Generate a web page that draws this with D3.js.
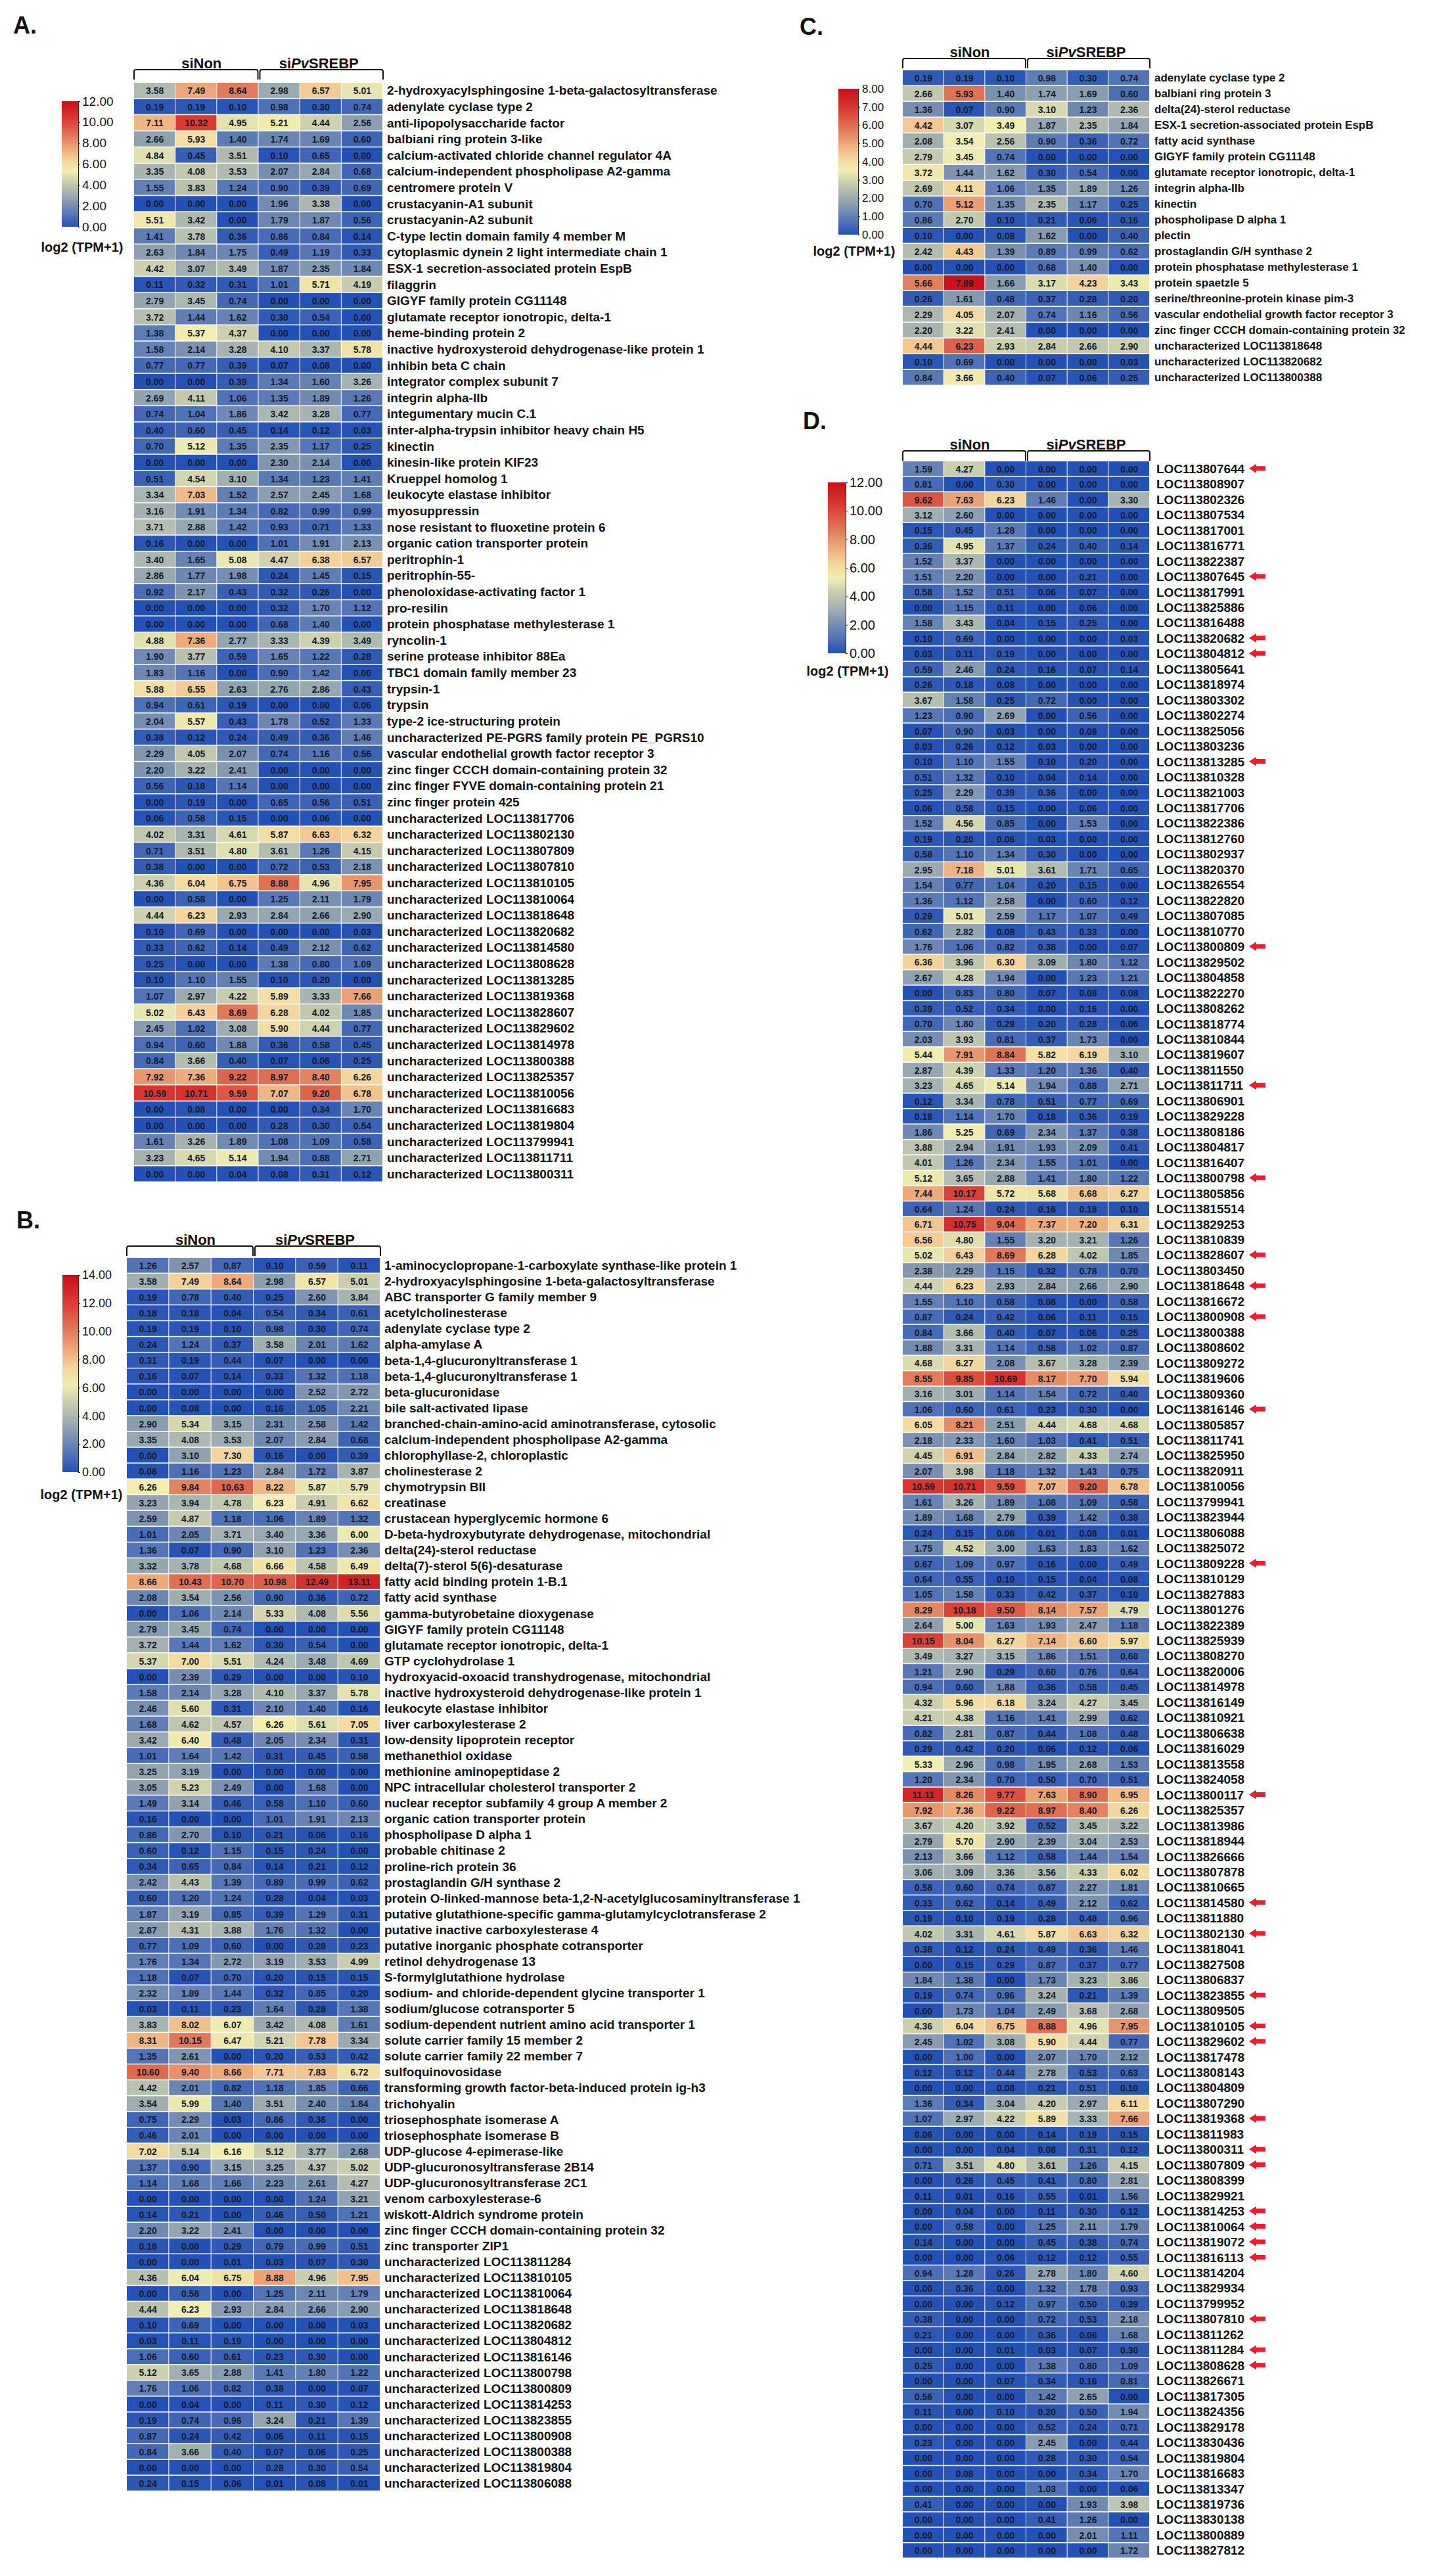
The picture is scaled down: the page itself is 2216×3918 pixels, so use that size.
<!DOCTYPE html>
<html>
<head>
<meta charset="utf-8">
<title>Heatmaps</title>
<script src="https://cdn.jsdelivr.net/npm/d3@7"></script>
<style>
  html, body { margin: 0; background: #fff; }
  svg { display: block; }
  text { font-family: "Liberation Sans", Arial, sans-serif; fill: #111; }
</style>
</head>
<body>
<div id="chart"></div>
<script>
const groupNames = ['siNon', 'siPvSREBP'];

const aRows = ['2-hydroxyacylsphingosine 1-beta-galactosyltransferase','adenylate cyclase type 2','anti-lipopolysaccharide factor','balbiani ring protein 3-like','calcium-activated chloride channel regulator 4A','calcium-independent phospholipase A2-gamma','centromere protein V','crustacyanin-A1 subunit','crustacyanin-A2 subunit','C-type lectin domain family 4 member M','cytoplasmic dynein 2 light intermediate chain 1','ESX-1 secretion-associated protein EspB','filaggrin','GIGYF family protein CG11148','glutamate receptor ionotropic, delta-1','heme-binding protein 2','inactive hydroxysteroid dehydrogenase-like protein 1','inhibin beta C chain','integrator complex subunit 7','integrin alpha-IIb','integumentary mucin C.1','inter-alpha-trypsin inhibitor heavy chain H5','kinectin','kinesin-like protein KIF23','Krueppel homolog 1','leukocyte elastase inhibitor','myosuppressin','nose resistant to fluoxetine protein 6','organic cation transporter protein','peritrophin-1','peritrophin-55-','phenoloxidase-activating factor 1','pro-resilin','protein phosphatase methylesterase 1','ryncolin-1','serine protease inhibitor 88Ea','TBC1 domain family member 23','trypsin-1','trypsin','type-2 ice-structuring protein','uncharacterized PE-PGRS family protein PE_PGRS10','vascular endothelial growth factor receptor 3','zinc finger CCCH domain-containing protein 32','zinc finger FYVE domain-containing protein 21','zinc finger protein 425','uncharacterized LOC113817706','uncharacterized LOC113802130','uncharacterized LOC113807809','uncharacterized LOC113807810','uncharacterized LOC113810105','uncharacterized LOC113810064','uncharacterized LOC113818648','uncharacterized LOC113820682','uncharacterized LOC113814580','uncharacterized LOC113808628','uncharacterized LOC113813285','uncharacterized LOC113819368','uncharacterized LOC113828607','uncharacterized LOC113829602','uncharacterized LOC113814978','uncharacterized LOC113800388','uncharacterized LOC113825357','uncharacterized LOC113810056','uncharacterized LOC113816683','uncharacterized LOC113819804','uncharacterized LOC113799941','uncharacterized LOC113811711','uncharacterized LOC113800311'];
const aValues = [
[3.58,7.49,8.64,2.98,6.57,5.01],[0.19,0.19,0.10,0.98,0.30,0.74],[7.11,10.32,4.95,5.21,4.44,2.56],[2.66,5.93,1.40,1.74,1.69,0.60],
[4.84,0.45,3.51,0.10,0.65,0],[3.35,4.08,3.53,2.07,2.84,0.68],[1.55,3.83,1.24,0.90,0.39,0.69],[0,0,0,1.96,3.38,0],
[5.51,3.42,0,1.79,1.87,0.56],[1.41,3.78,0.36,0.86,0.84,0.14],[2.63,1.84,1.75,0.49,1.19,0.33],[4.42,3.07,3.49,1.87,2.35,1.84],
[0.11,0.32,0.31,1.01,5.71,4.19],[2.79,3.45,0.74,0,0,0],[3.72,1.44,1.62,0.30,0.54,0],[1.38,5.37,4.37,0,0,0],
[1.58,2.14,3.28,4.10,3.37,5.78],[0.77,0.77,0.39,0.07,0.08,0],[0,0,0.39,1.34,1.60,3.26],[2.69,4.11,1.06,1.35,1.89,1.26],
[0.74,1.04,1.86,3.42,3.28,0.77],[0.40,0.60,0.45,0.14,0.12,0.03],[0.70,5.12,1.35,2.35,1.17,0.25],[0,0,0,2.30,2.14,0],
[0.51,4.54,3.10,1.34,1.23,1.41],[3.34,7.03,1.52,2.57,2.45,1.68],[3.16,1.91,1.34,0.82,0.99,0.99],[3.71,2.88,1.42,0.93,0.71,1.33],
[0.16,0,0,1.01,1.91,2.13],[3.40,1.65,5.08,4.47,6.38,6.57],[2.86,1.77,1.98,0.24,1.45,0.15],[0.92,2.17,0.43,0.32,0.26,0],
[0,0,0,0.32,1.70,1.12],[0,0,0,0.68,1.40,0],[4.88,7.36,2.77,3.33,4.39,3.49],[1.90,3.77,0.59,1.65,1.22,0.28],
[1.83,1.16,0,0.90,1.42,0],[5.88,6.55,2.63,2.76,2.86,0.43],[0.94,0.61,0.19,0,0,0.06],[2.04,5.57,0.43,1.78,0.52,1.33],
[0.38,0.12,0.24,0.49,0.36,1.46],[2.29,4.05,2.07,0.74,1.16,0.56],[2.20,3.22,2.41,0,0,0],[0.56,0.18,1.14,0,0,0],
[0,0.19,0,0.65,0.56,0.51],[0.06,0.58,0.15,0,0.06,0],[4.02,3.31,4.61,5.87,6.63,6.32],[0.71,3.51,4.80,3.61,1.26,4.15],
[0.38,0,0,0.72,0.53,2.18],[4.36,6.04,6.75,8.88,4.96,7.95],[0,0.58,0,1.25,2.11,1.79],[4.44,6.23,2.93,2.84,2.66,2.90],
[0.10,0.69,0,0,0,0.03],[0.33,0.62,0.14,0.49,2.12,0.62],[0.25,0,0,1.38,0.80,1.09],[0.10,1.10,1.55,0.10,0.20,0],
[1.07,2.97,4.22,5.89,3.33,7.66],[5.02,6.43,8.69,6.28,4.02,1.85],[2.45,1.02,3.08,5.90,4.44,0.77],[0.94,0.60,1.88,0.36,0.58,0.45],
[0.84,3.66,0.40,0.07,0.06,0.25],[7.92,7.36,9.22,8.97,8.40,6.26],[10.59,10.71,9.59,7.07,9.20,6.78],[0,0.08,0,0,0.34,1.70],
[0,0,0,0.28,0.30,0.54],[1.61,3.26,1.89,1.08,1.09,0.58],[3.23,4.65,5.14,1.94,0.88,2.71],[0,0,0.04,0.08,0.31,0.12]
];
const aTicks = [0,2,4,6,8,10,12];

const bRows = ['1-aminocyclopropane-1-carboxylate synthase-like protein 1','2-hydroxyacylsphingosine 1-beta-galactosyltransferase','ABC transporter G family member 9','acetylcholinesterase','adenylate cyclase type 2','alpha-amylase A','beta-1,4-glucuronyltransferase 1','beta-1,4-glucuronyltransferase 1','beta-glucuronidase','bile salt-activated lipase','branched-chain-amino-acid aminotransferase, cytosolic','calcium-independent phospholipase A2-gamma','chlorophyllase-2, chloroplastic','cholinesterase 2','chymotrypsin BII','creatinase','crustacean hyperglycemic hormone 6','D-beta-hydroxybutyrate dehydrogenase, mitochondrial','delta(24)-sterol reductase','delta(7)-sterol 5(6)-desaturase','fatty acid binding protein 1-B.1','fatty acid synthase','gamma-butyrobetaine dioxygenase','GIGYF family protein CG11148','glutamate receptor ionotropic, delta-1','GTP cyclohydrolase 1','hydroxyacid-oxoacid transhydrogenase, mitochondrial','inactive hydroxysteroid dehydrogenase-like protein 1','leukocyte elastase inhibitor','liver carboxylesterase 2','low-density lipoprotein receptor','methanethiol oxidase','methionine aminopeptidase 2','NPC intracellular cholesterol transporter 2','nuclear receptor subfamily 4 group A member 2','organic cation transporter protein','phospholipase D alpha 1','probable chitinase 2','proline-rich protein 36','prostaglandin G/H synthase 2','protein O-linked-mannose beta-1,2-N-acetylglucosaminyltransferase 1','putative glutathione-specific gamma-glutamylcyclotransferase 2','putative inactive carboxylesterase 4','putative inorganic phosphate cotransporter','retinol dehydrogenase 13','S-formylglutathione hydrolase','sodium- and chloride-dependent glycine transporter 1','sodium/glucose cotransporter 5','sodium-dependent nutrient amino acid transporter 1','solute carrier family 15 member 2','solute carrier family 22 member 7','sulfoquinovosidase','transforming growth factor-beta-induced protein ig-h3','trichohyalin','triosephosphate isomerase A','triosephosphate isomerase B','UDP-glucose 4-epimerase-like','UDP-glucuronosyltransferase 2B14','UDP-glucuronosyltransferase 2C1','venom carboxylesterase-6','wiskott-Aldrich syndrome protein','zinc finger CCCH domain-containing protein 32','zinc transporter ZIP1','uncharacterized LOC113811284','uncharacterized LOC113810105','uncharacterized LOC113810064','uncharacterized LOC113818648','uncharacterized LOC113820682','uncharacterized LOC113804812','uncharacterized LOC113816146','uncharacterized LOC113800798','uncharacterized LOC113800809','uncharacterized LOC113814253','uncharacterized LOC113823855','uncharacterized LOC113800908','uncharacterized LOC113800388','uncharacterized LOC113819804','uncharacterized LOC113806088'];
const bValues = [
[1.26,2.57,0.87,0.10,0.59,0.11],[3.58,7.49,8.64,2.98,6.57,5.01],[0.19,0.78,0.40,0.25,2.60,3.84],[0.18,0.18,0.04,0.54,0.34,0.61],
[0.19,0.19,0.10,0.98,0.30,0.74],[0.24,1.24,0.37,3.58,2.01,1.62],[0.31,0.19,0.44,0.07,0,0],[0.16,0.07,0.14,0.33,1.32,1.18],
[0,0,0,0,2.52,2.72],[0,0.08,0,0.16,1.05,2.21],[2.90,5.34,3.15,2.31,2.58,1.42],[3.35,4.08,3.53,2.07,2.84,0.68],
[0,3.10,7.30,0.16,0,0.39],[0.06,1.16,1.23,2.84,1.72,3.87],[6.26,9.84,10.63,8.22,5.87,5.79],[3.23,3.94,4.78,6.23,4.91,6.62],
[2.59,4.87,1.18,1.06,1.89,1.32],[1.01,2.05,3.71,3.40,3.36,6.00],[1.36,0.07,0.90,3.10,1.23,2.36],[3.32,3.78,4.68,6.66,4.58,6.49],
[8.66,10.43,10.70,10.98,12.49,13.11],[2.08,3.54,2.56,0.90,0.36,0.72],[0,1.06,2.14,5.33,4.08,5.56],[2.79,3.45,0.74,0,0,0],
[3.72,1.44,1.62,0.30,0.54,0],[5.37,7.00,5.51,4.24,3.48,4.69],[0,2.39,0.29,0,0,0.10],[1.58,2.14,3.28,4.10,3.37,5.78],
[2.46,5.60,0.31,2.10,1.40,0.16],[1.68,4.62,4.57,6.26,5.61,7.05],[3.42,6.40,0.48,2.05,2.34,0.31],[1.01,1.64,1.42,0.31,0.45,0.58],
[3.25,3.19,0,0,0,0],[3.05,5.23,2.49,0,1.68,0],[1.49,3.14,0.46,0.58,1.10,0.60],[0.16,0,0,1.01,1.91,2.13],
[0.86,2.70,0.10,0.21,0.06,0.16],[0.60,0.12,1.15,0.15,0.24,0],[0.34,0.65,0.84,0.14,0.21,0.12],[2.42,4.43,1.39,0.89,0.99,0.62],
[0.60,1.20,1.24,0.28,0.04,0.03],[1.87,3.19,0.85,0.39,1.29,0.31],[2.87,4.31,3.88,1.76,1.32,0],[0.77,1.09,0.60,0,0.28,0.23],
[1.76,1.34,2.72,3.19,3.53,4.99],[1.18,0.07,0.70,0.20,0.15,0.15],[2.32,1.89,1.44,0.32,0.85,0.20],[0.03,0.11,0.23,1.64,0.28,1.38],
[3.83,8.02,6.07,3.42,4.08,1.61],[8.31,10.15,6.47,5.21,7.78,3.34],[1.35,2.61,0,0.20,0.53,0.42],[10.60,9.40,8.66,7.71,7.83,6.72],
[4.42,2.01,0.82,1.18,1.85,0.66],[3.54,5.99,1.40,3.51,2.40,1.84],[0.75,2.29,0.03,0.86,0.36,0],[0.46,2.01,0,0,0,0],
[7.02,5.14,6.16,5.12,3.77,2.68],[1.37,0.90,3.15,3.25,4.37,5.02],[1.14,1.68,1.66,2.23,2.61,4.27],[0,0,0,0,1.24,3.21],
[0.14,0.21,0,0.46,0.50,1.21],[2.20,3.22,2.41,0,0,0],[0.18,0,0.29,0.79,0.99,0.51],[0,0,0.01,0.03,0.07,0.30],
[4.36,6.04,6.75,8.88,4.96,7.95],[0,0.58,0,1.25,2.11,1.79],[4.44,6.23,2.93,2.84,2.66,2.90],[0.10,0.69,0,0,0,0.03],
[0.03,0.11,0.19,0,0,0],[1.06,0.60,0.61,0.23,0.30,0],[5.12,3.65,2.88,1.41,1.80,1.22],[1.76,1.06,0.82,0.38,0,0.07],
[0,0.04,0,0.11,0.30,0.12],[0.19,0.74,0.96,3.24,0.21,1.39],[0.87,0.24,0.42,0.06,0.11,0.15],[0.84,3.66,0.40,0.07,0.06,0.25],
[0,0,0,0.28,0.30,0.54],[0.24,0.15,0.06,0.01,0.08,0.01]
];
const bTicks = [0,2,4,6,8,10,12,14];

const cRows = ['adenylate cyclase type 2','balbiani ring protein 3','delta(24)-sterol reductase','ESX-1 secretion-associated protein EspB','fatty acid synthase','GIGYF family protein CG11148','glutamate receptor ionotropic, delta-1','integrin alpha-IIb','kinectin','phospholipase D alpha 1','plectin','prostaglandin G/H synthase 2','protein phosphatase methylesterase 1','protein spaetzle 5','serine/threonine-protein kinase pim-3','vascular endothelial growth factor receptor 3','zinc finger CCCH domain-containing protein 32','uncharacterized LOC113818648','uncharacterized LOC113820682','uncharacterized LOC113800388'];
const cValues = [
[0.19,0.19,0.10,0.98,0.30,0.74],[2.66,5.93,1.40,1.74,1.69,0.60],[1.36,0.07,0.90,3.10,1.23,2.36],[4.42,3.07,3.49,1.87,2.35,1.84],
[2.08,3.54,2.56,0.90,0.36,0.72],[2.79,3.45,0.74,0,0,0],[3.72,1.44,1.62,0.30,0.54,0],[2.69,4.11,1.06,1.35,1.89,1.26],
[0.70,5.12,1.35,2.35,1.17,0.25],[0.86,2.70,0.10,0.21,0.06,0.16],[0.10,0,0.08,1.62,0,0.40],[2.42,4.43,1.39,0.89,0.99,0.62],
[0,0,0,0.68,1.40,0],[5.66,7.89,1.66,3.17,4.23,3.43],[0.26,1.61,0.48,0.37,0.28,0.20],[2.29,4.05,2.07,0.74,1.16,0.56],
[2.20,3.22,2.41,0,0,0],[4.44,6.23,2.93,2.84,2.66,2.90],[0.10,0.69,0,0,0,0.03],[0.84,3.66,0.40,0.07,0.06,0.25]
];
const cTicks = [0,1,2,3,4,5,6,7,8];

const dRows = ['LOC113807644','LOC113808907','LOC113802326','LOC113807534','LOC113817001','LOC113816771','LOC113822387','LOC113807645','LOC113817991','LOC113825886','LOC113816488','LOC113820682','LOC113804812','LOC113805641','LOC113818974','LOC113803302','LOC113802274','LOC113825056','LOC113803236','LOC113813285','LOC113810328','LOC113821003','LOC113817706','LOC113822386','LOC113812760','LOC113802937','LOC113820370','LOC113826554','LOC113822820','LOC113807085','LOC113810770','LOC113800809','LOC113829502','LOC113804858','LOC113822270','LOC113808262','LOC113818774','LOC113810844','LOC113819607','LOC113811550','LOC113811711','LOC113806901','LOC113829228','LOC113808186','LOC113804817','LOC113816407','LOC113800798','LOC113805856','LOC113815514','LOC113829253','LOC113810839','LOC113828607','LOC113803450','LOC113818648','LOC113816672','LOC113800908','LOC113800388','LOC113808602','LOC113809272','LOC113819606','LOC113809360','LOC113816146','LOC113805857','LOC113811741','LOC113825950','LOC113820911','LOC113810056','LOC113799941','LOC113823944','LOC113806088','LOC113825072','LOC113809228','LOC113810129','LOC113827883','LOC113801276','LOC113822389','LOC113825939','LOC113808270','LOC113820006','LOC113814978','LOC113816149','LOC113810921','LOC113806638','LOC113816029','LOC113813558','LOC113824058','LOC113800117','LOC113825357','LOC113813986','LOC113818944','LOC113826666','LOC113807878','LOC113810665','LOC113814580','LOC113811880','LOC113802130','LOC113818041','LOC113827508','LOC113806837','LOC113823855','LOC113809505','LOC113810105','LOC113829602','LOC113817478','LOC113808143','LOC113804809','LOC113807290','LOC113819368','LOC113811983','LOC113800311','LOC113807809','LOC113808399','LOC113829921','LOC113814253','LOC113810064','LOC113819072','LOC113816113','LOC113814204','LOC113829934','LOC113799952','LOC113807810','LOC113811262','LOC113811284','LOC113808628','LOC113826671','LOC113817305','LOC113824356','LOC113829178','LOC113830436','LOC113819804','LOC113816683','LOC113813347','LOC113819736','LOC113830138','LOC113800889','LOC113827812'];
const dValues = [
[1.59,4.27,0,0,0,0],[0.81,0,0.30,0,0,0],[9.62,7.63,6.23,1.46,0,3.30],[3.12,2.60,0,0,0,0],[0.15,0.45,1.28,0,0,0],[0.36,4.95,1.37,0.24,0.40,0.14],
[1.52,3.37,0,0,0,0],[1.51,2.20,0,0,0.21,0],[0.58,1.52,0.51,0.06,0.07,0],[0,1.15,0.11,0,0.06,0],[1.58,3.43,0.04,0.15,0.25,0],[0.10,0.69,0,0,0,0.03],
[0.03,0.11,0.19,0,0,0],[0.59,2.46,0.24,0.16,0.07,0.14],[0.26,0.18,0.08,0,0,0],[3.67,1.58,0.25,0.72,0,0],[1.23,0.90,2.69,0,0.56,0],[0.07,0.90,0.03,0,0.08,0],
[0.03,0.26,0.12,0.03,0,0],[0.10,1.10,1.55,0.10,0.20,0],[0.51,1.32,0.10,0.04,0.14,0],[0.25,2.29,0.39,0.36,0,0],[0.06,0.58,0.15,0,0.06,0],[1.52,4.56,0.85,0,1.53,0],
[0.19,0.20,0.06,0.03,0,0],[0.58,1.10,1.34,0.30,0,0],[2.95,7.18,5.01,3.61,1.71,0.65],[1.54,0.77,1.04,0.20,0.15,0],[1.36,1.12,2.58,0,0.60,0.12],[0.29,5.01,2.59,1.17,1.07,0.49],
[0.62,2.82,0.08,0.43,0.33,0],[1.76,1.06,0.82,0.38,0,0.07],[6.36,3.96,6.30,3.09,1.80,1.12],[2.67,4.28,1.94,0,1.23,1.21],[0,0.83,0.80,0.07,0.08,0.08],[0.39,0.52,0.34,0,0.16,0],
[0.70,1.80,0.29,0.20,0.28,0.06],[2.03,3.93,0.81,0.37,1.73,0],[5.44,7.91,8.84,5.82,6.19,3.10],[2.87,4.39,1.33,1.20,1.36,0.40],[3.23,4.65,5.14,1.94,0.88,2.71],[0.12,3.34,0.78,0.51,0.77,0.69],
[0.18,1.14,1.70,0.18,0.36,0.19],[1.86,5.25,0.69,2.34,1.37,0.38],[3.88,2.94,1.91,1.93,2.09,0.41],[4.01,1.26,2.34,1.55,1.01,0],[5.12,3.65,2.88,1.41,1.80,1.22],[7.44,10.17,5.72,5.68,6.68,6.27],
[0.64,1.24,0.24,0.16,0.18,0.10],[6.71,10.75,9.04,7.37,7.20,6.31],[6.56,4.80,1.55,3.20,3.21,1.26],[5.02,6.43,8.69,6.28,4.02,1.85],[2.38,2.29,1.15,0.32,0.78,0.70],[4.44,6.23,2.93,2.84,2.66,2.90],
[1.55,1.10,0.58,0.08,0,0.58],[0.87,0.24,0.42,0.06,0.11,0.15],[0.84,3.66,0.40,0.07,0.06,0.25],[1.88,3.31,1.14,0.58,1.02,0.87],[4.68,6.27,2.08,3.67,3.28,2.39],[8.55,9.85,10.69,8.17,7.70,5.94],
[3.16,3.01,1.14,1.54,0.72,0.40],[1.06,0.60,0.61,0.23,0.30,0],[6.05,8.21,2.51,4.44,4.68,4.68],[2.18,2.33,1.60,1.03,0.41,0.51],[4.45,6.91,2.84,2.82,4.33,2.74],[2.07,3.98,1.18,1.32,1.43,0.75],
[10.59,10.71,9.59,7.07,9.20,6.78],[1.61,3.26,1.89,1.08,1.09,0.58],[1.89,1.68,2.79,0.39,1.42,0.38],[0.24,0.15,0.06,0.01,0.08,0.01],[1.75,4.52,3.00,1.63,1.83,1.62],[0.67,1.09,0.97,0.16,0,0.49],
[0.64,0.55,0.10,0.15,0.04,0.08],[1.05,1.58,0.33,0.42,0.37,0.10],[8.29,10.18,9.50,8.14,7.57,4.79],[2.64,5.00,1.63,1.93,2.47,1.18],[10.15,8.04,6.27,7.14,6.60,5.97],[3.49,3.27,3.15,1.86,1.51,0.68],
[1.21,2.90,0.29,0.60,0.76,0.64],[0.94,0.60,1.88,0.36,0.58,0.45],[4.32,5.96,6.18,3.24,4.27,3.45],[4.21,4.38,1.16,1.41,2.99,0.62],[0.82,2.81,0.87,0.44,1.08,0.48],[0.29,0.42,0.20,0.06,0.12,0.06],
[5.33,2.96,0.98,1.95,2.68,1.53],[1.20,2.34,0.70,0.50,0.70,0.51],[11.11,8.26,9.77,7.63,8.90,6.95],[7.92,7.36,9.22,8.97,8.40,6.26],[3.67,4.20,3.92,0.52,3.45,3.22],[2.79,5.70,2.90,2.39,3.04,2.53],
[2.13,3.66,1.12,0.58,1.44,1.54],[3.06,3.09,3.36,3.56,4.33,6.02],[0.58,0.60,0.74,0.87,2.27,1.81],[0.33,0.62,0.14,0.49,2.12,0.62],[0.19,0.10,0.19,0.28,0.48,0.96],[4.02,3.31,4.61,5.87,6.63,6.32],
[0.38,0.12,0.24,0.49,0.36,1.46],[0,0.15,0.29,0.87,0.37,0.77],[1.84,1.38,0,1.73,3.23,3.86],[0.19,0.74,0.96,3.24,0.21,1.39],[0,1.73,1.04,2.49,3.68,2.68],[4.36,6.04,6.75,8.88,4.96,7.95],
[2.45,1.02,3.08,5.90,4.44,0.77],[0,1.00,0,2.07,1.70,2.12],[0.12,0.12,0.44,2.78,0.53,0.63],[0,0,0.08,0.21,0.51,0.10],[1.36,0.34,3.04,4.20,2.97,6.11],[1.07,2.97,4.22,5.89,3.33,7.66],
[0.06,0,0,0.14,0.19,0.15],[0,0,0.04,0.08,0.31,0.12],[0.71,3.51,4.80,3.61,1.26,4.15],[0,0.26,0.45,0.41,0.80,2.81],[0.11,0.01,0.16,0.55,0.01,1.56],[0,0.04,0,0.11,0.30,0.12],
[0,0.58,0,1.25,2.11,1.79],[0.14,0,0,0.45,0.38,0.74],[0,0,0.06,0.12,0.12,0.55],[0.94,1.28,0.26,2.78,1.80,4.60],[0,0.36,0,1.32,1.78,0.93],[0,0,0.12,0.97,0.50,0.39],
[0.38,0,0,0.72,0.53,2.18],[0.21,0,0,0.36,0.06,1.68],[0,0,0.01,0.03,0.07,0.30],[0.25,0,0,1.38,0.80,1.09],[0,0,0.07,0.34,0.16,0.81],[0.56,0,0,1.42,2.65,0],
[0.11,0,0.10,0.20,0.50,1.94],[0,0,0,0.52,0.24,0.71],[0.23,0,0,2.45,0,0.44],[0,0,0,0.28,0.30,0.54],[0,0.08,0,0,0.34,1.70],[0,0,0,1.03,0,0.06],
[0.41,0,0,0,1.93,3.98],[0,0,0,0.41,1.26,0],[0,0,0,0,2.01,1.11],[0,0,0,0,0,1.72]
];
const dTicks = [0,2,4,6,8,10,12];
const dMarked = ['LOC113807644','LOC113807645','LOC113820682','LOC113804812','LOC113813285','LOC113800809','LOC113811711','LOC113800798','LOC113828607','LOC113818648','LOC113800908','LOC113816146','LOC113809228','LOC113800117','LOC113814580','LOC113802130','LOC113823855','LOC113810105','LOC113829602','LOC113819368','LOC113800311','LOC113807809','LOC113814253','LOC113810064','LOC113819072','LOC113816113','LOC113807810','LOC113811284','LOC113808628'];

// colour ramp as fractions of each panel's maximum
const rampStops = [0, 0.09, 0.184, 0.256, 0.37, 0.44, 0.53, 0.617, 0.72, 0.86, 1];
const rampColors = ['#2451b5','#5273b6','#7e93b0','#a0aeb0','#cfd2ae','#f2eeb1','#f3d39b','#eeaa7c','#e07a5a','#da3c33','#c80f1b'];

const width = 2216;
const height = 3918;

const svg = d3.select('#chart').append('svg')
    .attr('width', width)
    .attr('height', height);

const defs = svg.append('defs');

function drawPanel(p) {
    const g = svg.append('g').attr('class', 'panel-' + p.letter);
    const max = p.ticks[p.ticks.length - 1];

    let x = d3.scaleBand().domain(d3.range(6)).range([p.left, p.right]);
    let y = d3.scaleBand().domain(d3.range(p.rows.length)).range([p.top, p.bottom]);
    let color = d3.scaleLinear()
        .domain(rampStops.map((s) => s * max))
        .range(rampColors)
        .interpolate(d3.interpolateRgb);

    g.append('text')
        .attr('x', p.letterX)
        .attr('y', p.letterY)
        .attr('font-size', 36)
        .attr('font-weight', 'bold')
        .text(p.letter + '.');

    // brackets over the two groups
    let mid = x(3);
    let brackets = [[p.left, mid - 1], [mid + 2, p.right]];
    g.selectAll('.bracket').data(brackets).enter().append('path')
        .attr('class', 'bracket')
        .attr('fill', 'none')
        .attr('stroke', '#111')
        .attr('stroke-width', 2)
        .attr('d', (d) => {
            let path = d3.path();
            path.moveTo(d[0], p.bracketTop + 15);
            path.lineTo(d[0], p.bracketTop + 3);
            path.quadraticCurveTo(d[0], p.bracketTop, d[0] + 3, p.bracketTop);
            path.lineTo(d[1] - 3, p.bracketTop);
            path.quadraticCurveTo(d[1], p.bracketTop, d[1], p.bracketTop + 3);
            path.lineTo(d[1], p.bracketTop + 15);
            return path.toString();
        });

    g.append('text')
        .attr('x', (p.left + mid) / 2 + 8)
        .attr('y', p.bracketTop - 2)
        .attr('text-anchor', 'middle')
        .attr('font-size', 22)
        .attr('font-weight', 'bold')
        .text(groupNames[0]);

    let second = g.append('text')
        .attr('x', (mid + p.right) / 2 - 3)
        .attr('y', p.bracketTop - 2)
        .attr('text-anchor', 'middle')
        .attr('font-size', 22)
        .attr('font-weight', 'bold');
    second.append('tspan').text('si');
    second.append('tspan').attr('font-style', 'italic').text('Pv');
    second.append('tspan').text('SREBP');

    // cells
    let cells = [];
    p.values.forEach((row, r) => row.forEach((v, c) => cells.push({r: r, c: c, v: v})));

    g.selectAll('.cell').data(cells).enter().append('rect')
        .attr('class', 'cell')
        .attr('x', (d) => x(d.c))
        .attr('y', (d) => y(d.r))
        .attr('width', x.bandwidth() - 1)
        .attr('height', y.bandwidth() - 1.5)
        .attr('fill', (d) => color(d.v));

    g.selectAll('.val').data(cells).enter().append('text')
        .attr('class', 'val')
        .attr('x', (d) => x(d.c) + x.bandwidth() / 2)
        .attr('y', (d) => y(d.r) + y.bandwidth() / 2)
        .attr('dy', '0.35em')
        .attr('text-anchor', 'middle')
        .attr('font-size', 14)
        .attr('font-weight', 'bold')
        .style('fill', '#141c2c')
        .text((d) => d.v.toFixed(2));

    // row labels
    let rowAxis = d3.axisRight(y)
        .tickSize(0)
        .tickPadding(p.labelGap)
        .tickFormat((i) => p.rows[i]);

    let rowG = g.append('g')
        .attr('transform', 'translate(' + p.right + ',0)')
        .call(rowAxis);
    rowG.select('.domain').remove();
    rowG.selectAll('text')
        .attr('font-size', p.labelSize)
        .attr('font-family', '"Liberation Sans", Arial, sans-serif')
        .attr('font-weight', 'bold');

    // colour bar
    let gradId = 'ramp-' + p.letter;
    let grad = defs.append('linearGradient')
        .attr('id', gradId)
        .attr('x1', 0).attr('y1', 1)
        .attr('x2', 0).attr('y2', 0);
    grad.selectAll('stop').data(rampStops).enter().append('stop')
        .attr('offset', (d) => d)
        .attr('stop-color', (d, i) => rampColors[i]);

    let barScale = d3.scaleLinear().domain([0, max]).range([p.barBottom, p.barTop]);
    g.append('rect')
        .attr('x', p.barLeft)
        .attr('y', p.barTop)
        .attr('width', p.barRight - p.barLeft)
        .attr('height', p.barBottom - p.barTop)
        .attr('fill', 'url(#' + gradId + ')');

    let barG = g.append('g')
        .attr('transform', 'translate(' + p.barRight + ',0)')
        .call(d3.axisRight(barScale)
            .tickValues(p.ticks)
            .tickSize(3)
            .tickSizeOuter(0)
            .tickPadding(3)
            .tickFormat(d3.format('.2f')));
    barG.selectAll('text')
        .attr('font-size', p.barFont)
        .attr('font-family', '"Liberation Sans", Arial, sans-serif');
    barG.selectAll('line, path').attr('stroke', '#222');

    g.append('text')
        .attr('x', p.unitX)
        .attr('y', p.unitY)
        .attr('text-anchor', 'middle')
        .attr('font-size', 20)
        .attr('font-weight', 'bold')
        .text('log2 (TPM+1)');

    // red arrows next to the marked genes
    if (p.marked) {
        let arrow = d3.line()([[0, 0], [11, -7], [11, -3.5], [25, -3.5], [25, 3.5], [11, 3.5], [11, 7]]) + 'Z';
        g.selectAll('.arrow').data(p.marked).enter().append('path')
            .attr('class', 'arrow')
            .attr('fill', '#ee1c2e')
            .attr('d', arrow)
            .attr('transform', (d) => 'translate(' + p.arrowX + ',' + (y(p.rows.indexOf(d)) + y.bandwidth() / 2 - 1) + ')');
    }
}

drawPanel({letter: 'A', rows: aRows, values: aValues, ticks: aTicks,
    left: 204, right: 583, top: 126, bottom: 1799, bracketTop: 106,
    letterX: 20, letterY: 51, labelGap: 6, labelSize: 19,
    barLeft: 94, barRight: 119, barTop: 154, barBottom: 345, barFont: 19, unitX: 125, unitY: 383});

drawPanel({letter: 'B', rows: bRows, values: bValues, ticks: bTicks,
    left: 193, right: 579, top: 1914, bottom: 3791, bracketTop: 1896,
    letterX: 25, letterY: 1869, labelGap: 6, labelSize: 19,
    barLeft: 95, barRight: 119, barTop: 1940, barBottom: 2240, barFont: 18, unitX: 124, unitY: 2281});

drawPanel({letter: 'C', rows: cRows, values: cValues, ticks: cTicks,
    left: 1374, right: 1750, top: 107, bottom: 587, bracketTop: 89,
    letterX: 1217, letterY: 53, labelGap: 7, labelSize: 17,
    barLeft: 1276, barRight: 1306, barTop: 135, barBottom: 357, barFont: 17, unitX: 1300, unitY: 389});

drawPanel({letter: 'D', rows: dRows, values: dValues, ticks: dTicks, marked: dMarked,
    left: 1374, right: 1750, top: 702, bottom: 3893, bracketTop: 686,
    letterX: 1222, letterY: 653, labelGap: 10, labelSize: 19, arrowX: 1901,
    barLeft: 1260, barRight: 1287, barTop: 734, barBottom: 994, barFont: 20, unitX: 1290, unitY: 1028});
</script>
</body>
</html>
